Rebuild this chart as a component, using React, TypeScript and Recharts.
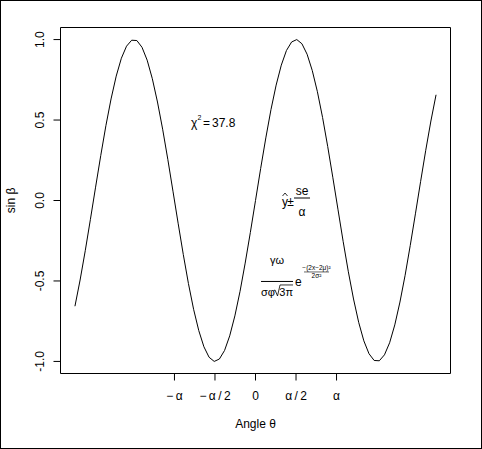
import React from 'react';
import { LineChart, Line, XAxis, YAxis, ReferenceArea, ReferenceDot, Label } from 'recharts';

const X_VALUES = [
  -7.0, -6.8, -6.6, -6.4, -6.2, -6.0, -5.8, -5.6, -5.4, -5.2, -5.0, -4.8, -4.6, -4.4, -4.2,
  -4.0, -3.8, -3.6, -3.4, -3.2, -3.0, -2.8, -2.6, -2.4, -2.2, -2.0, -1.8, -1.6, -1.4, -1.2,
  -1.0, -0.8, -0.6, -0.4, -0.2, 0.0, 0.2, 0.4, 0.6, 0.8, 1.0, 1.2, 1.4, 1.6, 1.8,
  2.0, 2.2, 2.4, 2.6, 2.8, 3.0, 3.2, 3.4, 3.6, 3.8, 4.0, 4.2, 4.4, 4.6, 4.8,
  5.0, 5.2, 5.4, 5.6, 5.8, 6.0, 6.2, 6.4, 6.6, 6.8, 7.0,
];
const SIN_VALUES = [
  -0.657, -0.494, -0.312, -0.117, 0.083, 0.279, 0.465, 0.631, 0.773, 0.884, 0.959, 0.996, 0.994, 0.952, 0.872,
  0.757, 0.612, 0.443, 0.256, 0.058, -0.141, -0.335, -0.516, -0.676, -0.808, -0.909, -0.974, -1.0, -0.985, -0.932,
  -0.841, -0.717, -0.565, -0.389, -0.199, 0.0, 0.199, 0.389, 0.565, 0.717, 0.841, 0.932, 0.985, 1.0, 0.974,
  0.909, 0.808, 0.676, 0.516, 0.335, 0.141, -0.058, -0.256, -0.443, -0.612, -0.757, -0.872, -0.952, -0.994, -0.996,
  -0.959, -0.884, -0.773, -0.631, -0.465, -0.279, -0.083, 0.117, 0.312, 0.494, 0.657,
];

const X_TICKS = [-3.14159, -1.5708, 0, 1.5708, 3.14159];
const X_TICK_LABELS = ['\u2212\u2009\u03B1', '\u2212\u2009\u03B1\u2009/\u20092', '0', '\u03B1\u2009/\u20092', '\u03B1'];
const Y_TICKS = [-1, -0.5, 0, 0.5, 1];
const Y_TICK_LABELS = ['-1.0', '-0.5', '0.0', '0.5', '1.0'];
const X_DOMAIN = [-7.56, 7.56];
const Y_DOMAIN = [-1.075, 1.075];

const X_TITLE = 'Angle \u03B8';
const Y_TITLE = 'sin \u03B2';

// annotation anchors in data coordinates
const ANN_CHI = { x: -1.5708, y: 0.48 };
const ANN_HAT = { x: 1.5708, y: 0 };
const ANN_DENS = { x: 1.5708, y: -0.5 };

const data = X_VALUES.map((x, i) => ({ x, y: SIN_VALUES[i] }));

const FONT = '"Liberation Sans", Arial, Helvetica, sans-serif';

const XTick = (props: any) => {
  const { x, y, payload, index } = props;
  const i = X_TICKS.indexOf(payload.value);
  const label = X_TICK_LABELS[i >= 0 ? i : index];
  return (
    <text x={x} y={y + 17.5} textAnchor="middle" fontFamily={FONT} fontSize={12} fill="#000">
      {label}
    </text>
  );
};

const YTick = (props: any) => {
  const { x, y, payload, index } = props;
  const i = Y_TICKS.indexOf(payload.value);
  const label = Y_TICK_LABELS[i >= 0 ? i : index];
  return (
    <text
      transform={`translate(${x - 8},${y}) rotate(-90)`}
      textAnchor="middle"
      fontFamily={FONT}
      fontSize={12}
      fill="#000"
    >
      {label}
    </text>
  );
};

const ChiShape = (p: any) => {
  const { cx, cy } = p;
  return (
    <g fontFamily={FONT} fill="#000">
      <text x={cx - 24} y={cy + 4} fontSize={12}>{'\u03C7'}</text>
      <text x={cx - 17.5} y={cy - 3.5} fontSize={7}>2</text>
      <text x={cx - 12} y={cy + 4} fontSize={12}>=</text>
      <text x={cx - 3} y={cy + 4} fontSize={12}>37.8</text>
    </g>
  );
};

const HatShape = (p: any) => {
  const { cx, cy } = p;
  return (
    <g fontFamily={FONT} fill="#000">
      <path d={`M${cx - 13.5},${cy - 4.5} L${cx - 11},${cy - 7.5} L${cx - 8.5},${cy - 4.5}`} stroke="#000" strokeWidth={0.8} fill="none" />
      <text x={cx - 11} y={cy + 5} fontSize={12} textAnchor="middle">y</text>
      <text x={cx - 5.5} y={cy + 5.5} fontSize={12} textAnchor="middle">{'\u00B1'}</text>
      <line x1={cx - 2} x2={cx + 14} y1={cy - 2.5} y2={cy - 2.5} stroke="#000" strokeWidth={1} />
      <text x={cx + 6} y={cy - 5.5} fontSize={12} textAnchor="middle">se</text>
      <text x={cx + 6} y={cy + 15.5} fontSize={12} textAnchor="middle">{'\u03B1'}</text>
    </g>
  );
};

const DensShape = (p: any) => {
  const { cx, cy } = p;
  return (
    <g fontFamily={FONT} fill="#000">
      <text x={cx - 19} y={cy - 17} fontSize={11} textAnchor="middle">{'\u03B3\u03C9'}</text>
      <line x1={cx - 35} x2={cx - 3} y1={cy + 0.5} y2={cy + 0.5} stroke="#000" strokeWidth={1} />
      <text x={cx - 35} y={cy + 15} fontSize={11}>{'\u03C3\u03C6'}</text>
      <path
        d={`M${cx - 22.5},${cy + 10} L${cx - 21},${cy + 9} L${cx - 18.5},${cy + 15} L${cx - 16},${cy + 4} L${cx - 3},${cy + 4}`}
        stroke="#000"
        strokeWidth={0.8}
        fill="none"
      />
      <text x={cx - 3} y={cy + 15} fontSize={11} textAnchor="end">{'3\u03C0'}</text>
      <text x={cx - 1} y={cy + 5} fontSize={12}>e</text>
      <text x={cx + 20.5} y={cy - 10.5} fontSize={6.5} textAnchor="middle">{'\u2212(2x\u22122\u03BC)\u00B2'}</text>
      <line x1={cx + 8} x2={cx + 33} y1={cy - 9} y2={cy - 9} stroke="#000" strokeWidth={0.6} />
      <text x={cx + 20.5} y={cy - 2.5} fontSize={6.5} textAnchor="middle">{'2\u03C3\u00B2'}</text>
    </g>
  );
};

export default function App() {
  return (
    <div style={{ position: 'absolute', left: 0, top: 0, width: 482, height: 449, background: '#fff' }}>
      <LineChart
        width={482}
        height={449}
        data={data}
        margin={{ top: 27.5, right: 31.5, bottom: 0, left: 0.5 }}
      >
        <XAxis
          type="number"
          dataKey="x"
          domain={X_DOMAIN}
          ticks={X_TICKS}
          interval={0}
          allowDataOverflow
          axisLine={false}
          tickLine={{ stroke: '#000', strokeWidth: 1 }}
          tickSize={7}
          height={75.5}
          tick={<XTick />}
        >
          <Label
            content={(props: any) => {
              const vb = props.viewBox || { x: 60.5, y: 373.5, width: 390, height: 75.5 };
              return (
                <text x={vb.x + vb.width / 2} y={vb.y + 54.5} textAnchor="middle" fontFamily={FONT} fontSize={12} fill="#000">
                  {X_TITLE}
                </text>
              );
            }}
          />
        </XAxis>
        <YAxis
          type="number"
          domain={Y_DOMAIN}
          ticks={Y_TICKS}
          interval={0}
          allowDataOverflow
          axisLine={false}
          tickLine={{ stroke: '#000', strokeWidth: 1 }}
          tickSize={7}
          width={60}
          tick={<YTick />}
        >
          <Label
            content={(props: any) => {
              const vb = props.viewBox || { x: 0.5, y: 27.5, width: 60, height: 346 };
              return (
                <text
                  transform={`translate(15,${vb.y + vb.height / 2}) rotate(-90)`}
                  textAnchor="middle"
                  fontFamily={FONT}
                  fontSize={12}
                  fill="#000"
                >
                  {Y_TITLE}
                </text>
              );
            }}
          />
        </YAxis>
        <ReferenceArea
          x1={X_DOMAIN[0]}
          x2={X_DOMAIN[1]}
          y1={Y_DOMAIN[0]}
          y2={Y_DOMAIN[1]}
          fill="none"
          fillOpacity={0}
          stroke="#000"
          strokeWidth={1}
          ifOverflow="visible"
        />
        <Line
          type="linear"
          dataKey="y"
          stroke="#000"
          strokeWidth={1}
          dot={false}
          activeDot={false}
          isAnimationActive={false}
        />
        <ReferenceDot x={ANN_CHI.x} y={ANN_CHI.y} r={0} shape={(p: any) => <ChiShape {...p} />} ifOverflow="visible" />
        <ReferenceDot x={ANN_HAT.x} y={ANN_HAT.y} r={0} shape={(p: any) => <HatShape {...p} />} ifOverflow="visible" />
        <ReferenceDot x={ANN_DENS.x} y={ANN_DENS.y} r={0} shape={(p: any) => <DensShape {...p} />} ifOverflow="visible" />
      </LineChart>
      <div
        style={{
          position: 'absolute',
          left: 0,
          top: 0,
          width: 482,
          height: 449,
          border: '1px solid #000',
          boxSizing: 'border-box',
          pointerEvents: 'none',
        }}
      />
    </div>
  );
}
